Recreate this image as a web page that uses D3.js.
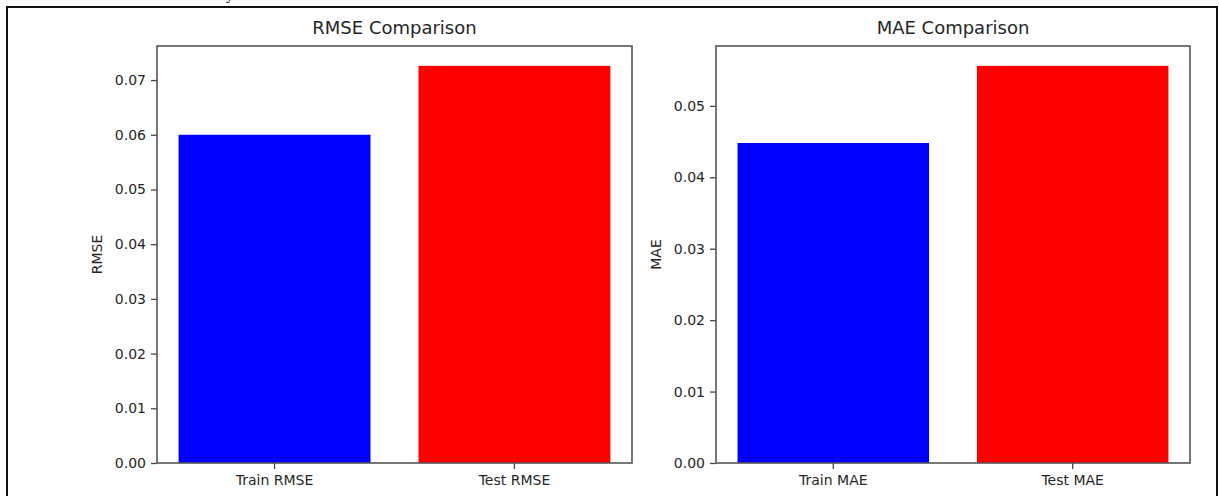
<!DOCTYPE html>
<html><head><meta charset="utf-8">
<script src="https://cdn.jsdelivr.net/npm/d3@7"></script>
<style>
body{margin:0;background:#fff;}
text{font-family:"DejaVu Sans",sans-serif;fill:#262626;}
</style></head>
<body><svg id="c" width="1219" height="496"></svg>
<script>
const rmseCategories = ["Train RMSE", "Test RMSE"];
const rmseValues = [0.0600, 0.0726];
const rmseTicks = [0, 0.01, 0.02, 0.03, 0.04, 0.05, 0.06, 0.07];
const maeCategories = ["Train MAE", "Test MAE"];
const maeValues = [0.0448, 0.0556];
const maeTicks = [0, 0.01, 0.02, 0.03, 0.04, 0.05];
const barColors = ["#0000ff", "#ff0000"];

const svg = d3.select("#c");
// outer frame
svg.append("rect").attr("x",7).attr("y",7).attr("width",1210).attr("height",500)
  .attr("fill","none").attr("stroke","#111").attr("stroke-width",2);
// caption above the figure (only its descender shows)
svg.append("text").attr("x",230).attr("y",-1).attr("text-anchor","middle")
  .style("font-family","Liberation Serif").style("font-size","16px").style("fill","#000").text("y");

function panel(left, right, top, bottom, cats, vals, ticks, title, ylabel){
  const x = d3.scaleBand().domain(cats).range([left,right]).paddingInner(0.2).paddingOuter(0.09);
  const ymax = d3.max(vals)*1.05;
  const y = d3.scaleLinear().domain([0,ymax]).range([bottom,top]);
  const g = svg.append("g");
  g.selectAll("rect.bar").data(vals).enter().append("rect")
    .attr("x",(d,i)=>x(cats[i])).attr("width",x.bandwidth())
    .attr("y",d=>y(d)).attr("height",d=>y(0)-y(d))
    .attr("fill",(d,i)=>barColors[i]);
  const ya = g.append("g").attr("transform",`translate(${left},0)`)
    .call(d3.axisLeft(y).tickValues(ticks).tickFormat(d3.format(".2f")).tickSize(6).tickPadding(5));
  const xa = g.append("g").attr("transform",`translate(0,${bottom})`)
    .call(d3.axisBottom(x).tickSize(6).tickPadding(6));
  [ya,xa].forEach(a=>{
    a.select(".domain").remove();
    a.selectAll("line").attr("stroke","#444").attr("stroke-width",1.3);
    a.selectAll("text").style("font-size","14px").style("font-family","DejaVu Sans").attr("fill","#262626");
  });
  g.append("rect").attr("x",left).attr("y",top).attr("width",right-left).attr("height",bottom-top)
    .attr("fill","none").attr("stroke","#555").attr("stroke-width",1.6);
  g.append("text").attr("x",(left+right)/2).attr("y",top-12).attr("text-anchor","middle")
    .style("font-size","18px").text(title);
  g.append("text").attr("transform",`translate(${left-55},${(top+bottom)/2}) rotate(-90)`)
    .attr("text-anchor","middle").style("font-size","14px").text(ylabel);
}
panel(157, 632, 46, 463, rmseCategories, rmseValues, rmseTicks, "RMSE Comparison", "RMSE");
panel(716, 1190, 46, 463, maeCategories, maeValues, maeTicks, "MAE Comparison", "MAE");
</script></body></html>
